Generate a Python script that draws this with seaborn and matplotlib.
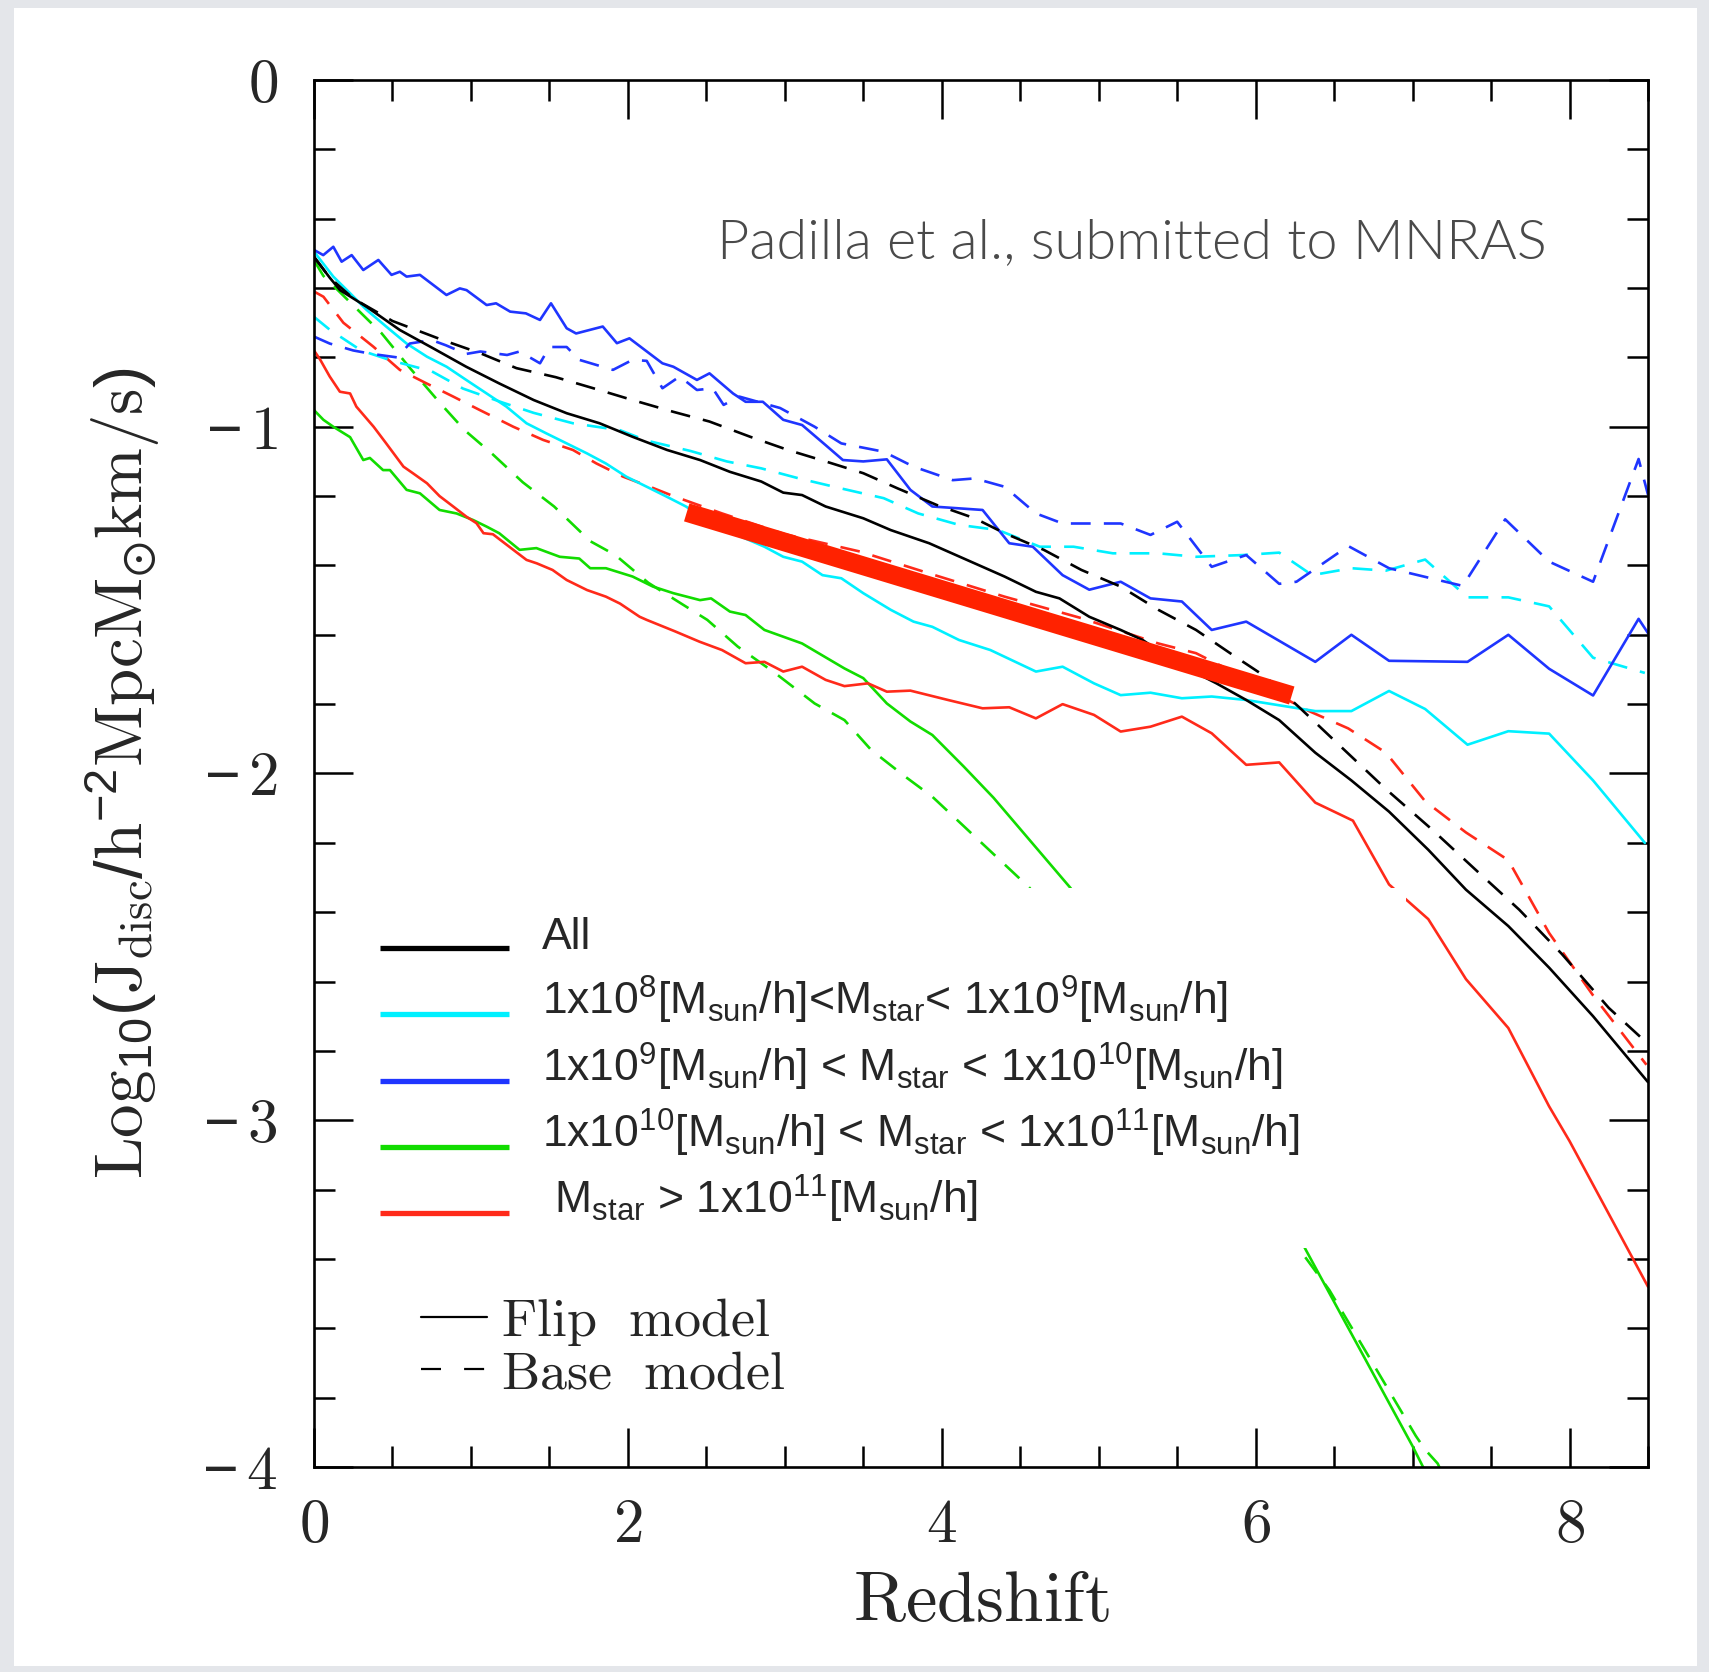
import numpy as np
import pandas as pd
import matplotlib
matplotlib.use('Agg')
import matplotlib.pyplot as plt
import seaborn as sns
from matplotlib.lines import Line2D
from matplotlib.patches import Rectangle
from matplotlib.ticker import MultipleLocator
from matplotlib.font_manager import FontProperties
from matplotlib.legend_handler import HandlerLine2D

# ---------------- data ----------------
z_all_flip = [0, 0.05, 0.1, 0.166, 0.335, 0.547, 0.76, 0.97, 1.18, 1.40, 1.61, 1.82, 2.03, 2.25, 2.46,
              2.65, 2.85, 2.99, 3.11, 3.26, 3.50, 3.675, 3.92, 4.21, 4.40, 4.60, 4.75, 4.94, 5.14,
              5.28, 5.50, 5.75, 5.94, 6.15, 6.38, 6.61, 6.85, 7.1, 7.34, 7.61, 7.87, 8.15, 8.5]
j_all_flip = [-0.51, -0.54, -0.57, -0.606, -0.654, -0.721, -0.774, -0.827, -0.875, -0.923, -0.961,
              -0.99, -1.029, -1.067, -1.096, -1.13, -1.158, -1.19, -1.197, -1.23, -1.264, -1.298,
              -1.336, -1.394, -1.432, -1.476, -1.495, -1.548, -1.586, -1.615, -1.682, -1.74, -1.788,
              -1.846, -1.94, -2.02, -2.11, -2.22, -2.335, -2.44, -2.56, -2.70, -2.89]

z_all_base = [0, 0.1, 0.25, 0.5, 0.82, 1.06, 1.29, 1.54, 1.78, 2.03, 2.29, 2.52, 2.78, 3.02, 3.26,
              3.50, 3.72, 3.97, 4.21, 4.40, 4.65, 4.89, 5.14, 5.38, 5.62, 5.87, 6.06, 6.28, 6.53,
              6.83, 7.12, 7.40, 7.68, 7.95, 8.25, 8.5]
j_all_base = [-0.51, -0.57, -0.63, -0.695, -0.75, -0.788, -0.831, -0.857, -0.889, -0.923, -0.957,
              -0.985, -1.029, -1.067, -1.10, -1.134, -1.178, -1.226, -1.264, -1.307, -1.355, -1.413,
              -1.461, -1.528, -1.586, -1.663, -1.72, -1.81, -1.917, -2.045, -2.16, -2.277, -2.393,
              -2.52, -2.676, -2.78]

z_m9_flip = [0, 0.059, 0.123, 0.176, 0.24, 0.314, 0.41, 0.494, 0.547, 0.59, 0.675, 0.844, 0.929,
             0.972, 1.10, 1.16, 1.25, 1.35, 1.44, 1.51, 1.61, 1.67, 1.84, 1.93, 2.01, 2.22, 2.29,
             2.44, 2.52, 2.67, 2.75, 2.86, 2.99, 3.11, 3.26, 3.37, 3.50, 3.65, 3.80, 3.94, 4.26,
             4.43, 4.58, 4.77, 4.94, 5.14, 5.33, 5.53, 5.72, 5.94, 6.38, 6.61, 6.85, 7.35, 7.61,
             7.87, 8.15, 8.44, 8.5]
j_m9_flip = [-0.49, -0.505, -0.481, -0.524, -0.505, -0.548, -0.519, -0.562, -0.553, -0.567, -0.562,
             -0.62, -0.601, -0.606, -0.649, -0.644, -0.668, -0.673, -0.692, -0.644, -0.716, -0.731,
             -0.711, -0.759, -0.745, -0.817, -0.827, -0.865, -0.846, -0.904, -0.928, -0.928, -0.98,
             -0.995, -1.053, -1.096, -1.10, -1.094, -1.182, -1.23, -1.24, -1.336, -1.346, -1.428,
             -1.47, -1.447, -1.495, -1.504, -1.586, -1.562, -1.678, -1.60, -1.675, -1.678, -1.60,
             -1.698, -1.775, -1.554, -1.595]

z_m9_base = [0, 0.10, 0.25, 0.37, 0.53, 0.61, 0.75, 0.84, 0.97, 1.06, 1.23, 1.31, 1.44, 1.50, 1.61,
             1.69, 1.905, 2.03, 2.12, 2.22, 2.33, 2.44, 2.54, 2.61, 2.71, 2.97, 3.19, 3.36, 3.63,
             3.82, 4.07, 4.21, 4.40, 4.60, 4.77, 5.14, 5.33, 5.50, 5.72, 5.94, 6.15, 6.26, 6.59,
             6.85, 7.32, 7.59, 7.87, 8.15, 8.44, 8.5]
j_m9_base = [-0.74, -0.76, -0.78, -0.79, -0.80, -0.76, -0.75, -0.765, -0.79, -0.783, -0.793, -0.783,
             -0.817, -0.77, -0.77, -0.807, -0.836, -0.807, -0.81, -0.889, -0.855, -0.894, -0.889,
             -0.937, -0.913, -0.946, -1.0, -1.048, -1.072, -1.115, -1.154, -1.149, -1.173, -1.25,
             -1.279, -1.279, -1.312, -1.274, -1.404, -1.37, -1.453, -1.447, -1.344, -1.408, -1.459,
             -1.267, -1.389, -1.447, -1.093, -1.196]

z_m8_flip = [0, 0.123, 0.23, 0.335, 0.46, 0.59, 0.72, 0.845, 0.97, 1.10, 1.226, 1.354, 1.48, 1.61,
             1.74, 1.86, 1.99, 2.12, 2.24, 2.37, 2.5, 2.67, 2.87, 2.99, 3.11, 3.24, 3.36, 3.50,
             3.675, 3.82, 3.94, 4.11, 4.31, 4.60, 4.77, 4.97, 5.14, 5.33, 5.53, 5.72, 5.94, 6.38,
             6.61, 6.85, 7.08, 7.35, 7.61, 7.87, 8.15, 8.48]
j_m8_flip = [-0.495, -0.567, -0.615, -0.663, -0.711, -0.76, -0.798, -0.827, -0.865, -0.904, -0.942,
             -0.99, -1.019, -1.048, -1.077, -1.106, -1.144, -1.173, -1.20, -1.23, -1.269, -1.307,
             -1.346, -1.375, -1.389, -1.428, -1.437, -1.48, -1.528, -1.562, -1.577, -1.615, -1.644,
             -1.706, -1.692, -1.74, -1.774, -1.767, -1.783, -1.778, -1.788, -1.82, -1.82, -1.762,
             -1.814, -1.917, -1.878, -1.885, -2.02, -2.20]

z_m8_base = [0, 0.1, 0.3, 0.5, 0.75, 0.95, 1.2, 1.4, 1.65, 1.95, 2.12, 2.4, 2.63, 2.85, 3.09, 3.36,
             3.63, 3.85, 4.11, 4.36, 4.625, 4.84, 5.09, 5.38, 5.62, 5.92, 6.15, 6.36, 6.61, 6.83,
             7.08, 7.35, 7.61, 7.87, 8.15, 8.48]
j_m8_base = [-0.683, -0.72, -0.78, -0.81, -0.84, -0.89, -0.93, -0.96, -0.99, -1.01, -1.04, -1.07,
             -1.10, -1.12, -1.149, -1.178, -1.206, -1.25, -1.283, -1.298, -1.346, -1.346, -1.365,
             -1.365, -1.375, -1.37, -1.363, -1.428, -1.408, -1.415, -1.383, -1.492, -1.492, -1.518,
             -1.666, -1.71]

z_m11_flip = [0, 0.04, 0.10, 0.165, 0.23, 0.27, 0.38, 0.46, 0.57, 0.63, 0.72, 0.80, 0.887, 0.97,
              1.035, 1.08, 1.14, 1.27, 1.354, 1.42, 1.52, 1.61, 1.74, 1.86, 1.95, 2.075, 2.12, 2.3,
              2.457, 2.60, 2.75, 2.87, 2.99, 3.11, 3.26, 3.38, 3.53, 3.65, 3.80, 4.04, 4.26, 4.43,
              4.60, 4.77, 4.97, 5.14, 5.33, 5.53, 5.72, 5.94, 6.15, 6.38, 6.62, 6.85, 7.0, 7.10,
              7.34, 7.61, 7.87, 8.0, 8.25, 8.5]
j_m11_flip = [-0.78, -0.807, -0.855, -0.899, -0.904, -0.942, -1.0, -1.048, -1.115, -1.134, -1.163,
              -1.2, -1.23, -1.259, -1.278, -1.307, -1.31, -1.355, -1.384, -1.394, -1.413, -1.442,
              -1.471, -1.49, -1.51, -1.548, -1.557, -1.59, -1.62, -1.644, -1.682, -1.678, -1.706,
              -1.692, -1.73, -1.748, -1.74, -1.764, -1.761, -1.788, -1.812, -1.809, -1.841, -1.80,
              -1.831, -1.879, -1.865, -1.836, -1.884, -1.975, -1.968, -2.084, -2.136, -2.32, -2.38,
              -2.42, -2.593, -2.734, -2.96, -3.06, -3.27, -3.48]

z_m11_base = [0, 0.06, 0.187, 0.378, 0.547, 0.717, 0.887, 1.057, 1.27, 1.46, 1.65, 1.80, 1.97, 2.14,
              2.29, 2.6, 3.0, 3.48, 3.92, 4.4, 4.89, 5.38, 5.62, 6.0, 6.34, 6.59, 6.83, 7.08, 7.34,
              7.61, 7.87, 8.15, 8.49]
j_m11_base = [-0.61, -0.625, -0.70, -0.769, -0.836, -0.875, -0.913, -0.952, -1.0, -1.038, -1.067,
              -1.106, -1.144, -1.173, -1.2, -1.25, -1.31, -1.36, -1.423, -1.49, -1.552, -1.625,
              -1.653, -1.74, -1.82, -1.87, -1.94, -2.08, -2.17, -2.25, -2.46, -2.64, -2.84]

z_m10_flip = [0, 0.06, 0.123, 0.23, 0.314, 0.356, 0.44, 0.484, 0.59, 0.675, 0.80, 0.908, 1.014, 1.10,
              1.18, 1.31, 1.417, 1.566, 1.69, 1.76, 1.86, 2.03, 2.16, 2.29, 2.46, 2.53, 2.65, 2.75,
              2.87, 3.11, 3.38, 3.50, 3.65, 3.80, 3.94, 4.14, 4.33, 4.82, 5.2, 5.6, 6.0, 6.32, 7.0,
              7.1]
j_m10_flip = [-0.952, -0.98, -1.0, -1.03, -1.096, -1.09, -1.125, -1.125, -1.182, -1.192, -1.24,
              -1.25, -1.269, -1.288, -1.307, -1.355, -1.35, -1.375, -1.38, -1.408, -1.408, -1.432,
              -1.461, -1.48, -1.5, -1.495, -1.533, -1.543, -1.586, -1.625, -1.697, -1.725, -1.798,
              -1.85, -1.889, -1.98, -2.07, -2.33, -2.57, -2.83, -3.1, -3.374, -3.94, -4.03]

z_m10_base = [0, 0.06, 0.25, 0.43, 0.61, 0.80, 0.96, 1.14, 1.33, 1.53, 1.76, 1.92, 2.13, 2.34, 2.506,
              2.70, 2.94, 3.19, 3.38, 3.55, 3.77, 3.94, 4.56, 5.0, 5.5, 6.0, 6.47, 7.02, 7.08, 7.16,
              7.2]
j_m10_base = [-0.52, -0.565, -0.65, -0.73, -0.83, -0.93, -1.01, -1.08, -1.16, -1.23, -1.33, -1.37,
              -1.45, -1.51, -1.557, -1.634, -1.711, -1.798, -1.846, -1.932, -2.01, -2.067, -2.33,
              -2.6, -2.9, -3.2, -3.49, -3.91, -3.95, -3.99, -4.03]

# hand-drawn highlight bar
bar_z = [2.375, 6.23]
bar_j = [-1.247, -1.775]

legend_labels = [
    'All',
    '1x10$^{8}$[M$_{\\rm sun}$/h]<M$_{\\rm star}$< 1x10$^{9}$[M$_{\\rm sun}$/h]',
    '1x10$^{9}$[M$_{\\rm sun}$/h] < M$_{\\rm star}$ < 1x10$^{10}$[M$_{\\rm sun}$/h]',
    '1x10$^{10}$[M$_{\\rm sun}$/h] < M$_{\\rm star}$ < 1x10$^{11}$[M$_{\\rm sun}$/h]',
    ' M$_{\\rm star}$ > 1x10$^{11}$[M$_{\\rm sun}$/h]',
]
model_labels = [r'$\mathrm{Flip\ \ model}$', r'$\mathrm{Base\ \ model}$']
x_ticks = [0, 2, 4, 6, 8]
x_ticklabels = [r'$\mathrm{0}$', r'$\mathrm{2}$', r'$\mathrm{4}$', r'$\mathrm{6}$', r'$\mathrm{8}$']
y_ticks = [0, -1, -2, -3, -4]
y_ticklabels = [r'$\mathrm{0}$', r'$-\,\mathrm{1}$', r'$-\,\mathrm{2}$', r'$-\,\mathrm{3}$', r'$-\,\mathrm{4}$']

# ---------------- style ----------------
BLACK, CYAN, BLUE, GREEN, RED = '#000000', '#00f0ff', '#1f35ff', '#12dc00', '#ff2a1a'
BARCOL = '#ff2200'

sns.set_style('ticks')
plt.rcParams.update({
    'font.family': ['Liberation Sans', 'DejaVu Sans'],
    'mathtext.fontset': 'custom',
    'mathtext.rm': 'Liberation Sans',
    'mathtext.it': 'Liberation Sans',
    'mathtext.bf': 'Liberation Sans:bold',
    'mathtext.default': 'regular',
    'lines.dashed_pattern': (7.5, 5.0),
    'axes.unicode_minus': True,
})

W, H = 1709, 1672
fig = plt.figure(figsize=(W / 100, H / 100), dpi=100)
fig.patch.set_facecolor('#e4e6ea')
fig.add_artist(Rectangle((14 / W, 1 - 1666 / H), (1697 - 14) / W, (1666 - 8) / H,
                         transform=fig.transFigure, facecolor='white', edgecolor='none', zorder=-5))

ax = fig.add_axes([314 / W, 1 - 1467 / H, (1648 - 314) / W, (1467 - 80) / H])
ax.set_facecolor('none')

LW = 1.9
series = [
    (z_m10_flip, j_m10_flip, GREEN, '-'), (z_m10_base, j_m10_base, GREEN, '--'),
    (z_m11_flip, j_m11_flip, RED, '-'), (z_m11_base, j_m11_base, RED, '--'),
    (z_m8_flip, j_m8_flip, CYAN, '-'), (z_m8_base, j_m8_base, CYAN, '--'),
    (z_m9_flip, j_m9_flip, BLUE, '-'), (z_m9_base, j_m9_base, BLUE, '--'),
    (z_all_flip, j_all_flip, BLACK, '-'), (z_all_base, j_all_base, BLACK, '--'),
]
for zz, jj, col, ls in series:
    sns.lineplot(x=zz, y=jj, color=col, linestyle=ls, lw=LW, ax=ax, estimator=None,
                 sort=False, legend=False)

sns.lineplot(x=bar_z, y=bar_j, color=BARCOL, lw=13.5, ax=ax, estimator=None, sort=False,
             legend=False, solid_capstyle='butt')

ax.set_xlim(0, 8.5)
ax.set_ylim(-4, 0)
ax.xaxis.set_minor_locator(MultipleLocator(0.5))
ax.yaxis.set_minor_locator(MultipleLocator(0.2))
ax.set_xticks(x_ticks, labels=x_ticklabels, fontsize=44, math_fontfamily='cm')
ax.set_yticks(y_ticks, labels=y_ticklabels, fontsize=44, math_fontfamily='cm')
ax.tick_params(which='both', direction='in', top=True, right=True, width=1.8, color='black')
ax.tick_params(axis='y', which='major', length=28, pad=26)
ax.tick_params(axis='x', which='major', length=28, pad=22)
ax.tick_params(which='minor', length=15)
for s in ax.spines.values():
    s.set_linewidth(1.9)
    s.set_color('black')

# white box behind the legend (hides lines, as in the original)
ax.add_patch(Rectangle((0.035, 0.158), 0.8186 - 0.035, 0.4175 - 0.158, transform=ax.transAxes,
                       facecolor='white', edgecolor='none', zorder=3))


class BaselineLine(HandlerLine2D):
    """Legend line drawn at the text baseline instead of mid-height."""
    def __init__(self, yoff=0.5, **kw):
        super().__init__(**kw)
        self.yoff = yoff

    def create_artists(self, legend, orig_handle, xdescent, ydescent, width, height, fontsize, trans):
        arts = super().create_artists(legend, orig_handle, xdescent, ydescent, width, height,
                                      fontsize, trans)
        for a in arts:
            yd = np.asarray(a.get_ydata(), dtype=float)
            a.set_ydata(np.full_like(yd, self.yoff))
        return arts


fs1 = 32
fs1_px = fs1 * 100 / 72
h1 = [Line2D([], [], color=c, lw=3.8, solid_capstyle='butt') for c in [BLACK, CYAN, BLUE, GREEN, RED]]
leg1 = ax.legend(handles=h1, labels=legend_labels, loc='upper left',
                 bbox_to_anchor=(0.0495, 0.4035), bbox_transform=ax.transAxes, frameon=False,
                 fontsize=fs1, handlelength=129 / fs1_px, handleheight=1.5,
                 handletextpad=0.74, labelspacing=0.266, borderpad=0, borderaxespad=0,
                 handler_map={Line2D: BaselineLine()})
leg1.set_zorder(5)
ax.add_artist(leg1)

fs2 = 39
fs2_px = fs2 * 100 / 72
h2 = [Line2D([], [], color='black', lw=1.6, ls='-'),
      Line2D([], [], color='black', lw=1.6, ls=(0, (9, 10.4)))]
leg2 = ax.legend(handles=h2, labels=model_labels, loc='upper left', bbox_to_anchor=(0.0802, 0.1235),
                 bbox_transform=ax.transAxes, frameon=False,
                 prop=FontProperties(size=fs2, math_fontfamily='cm'), handlelength=66 / fs2_px,
                 handletextpad=0.25, labelspacing=0.03, borderpad=0, borderaxespad=0)
leg2.set_zorder(5)

ylab = ax.set_ylabel(r'$\mathrm{Log}_{10}(\mathrm{J}_{\mathrm{disc}}/\mathrm{h}^{-2}\mathrm{MpcM}_{\odot}\mathrm{km/s})$',
                     fontsize=44, math_fontfamily='cm')
xlab = ax.set_xlabel(r'$\mathrm{Redshift}$', fontsize=46, math_fontfamily='cm')
note = ax.text((717 - 314) / 1334, (1467 - 258) / 1387, 'Padilla et al., submitted to MNRAS',
               transform=ax.transAxes, ha='left', va='baseline', fontsize=40, color='#4a4a4a',
               family=['Lato', 'DejaVu Sans'], fontweight=300)


def fit(txt, target, use_height=False):
    fig.canvas.draw()
    bb = txt.get_window_extent(fig.canvas.get_renderer())
    cur = bb.height if use_height else bb.width
    txt.set_fontsize(txt.get_fontsize() * target / cur)


fit(ylab, 812, use_height=True)
fit(xlab, 257)
fit(note, 828)
ax.yaxis.set_label_coords(-0.114, 0.5)
ax.xaxis.set_label_coords(0.5, -0.074)

fig.savefig('out.png', dpi=100, facecolor=fig.get_facecolor())
